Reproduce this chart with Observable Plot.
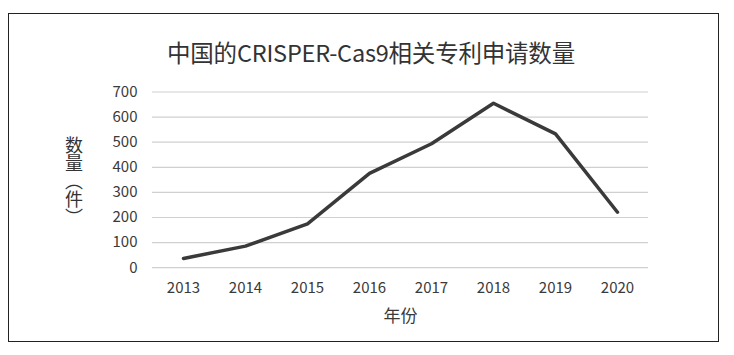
<!DOCTYPE html>
<html>
<head>
<meta charset="utf-8">
<script src="https://cdn.jsdelivr.net/npm/d3@7"></script>
<script src="https://cdn.jsdelivr.net/npm/@observablehq/plot@0.6"></script>
<style>
  html, body { margin: 0; padding: 0; background: #fff; }
  #wrap { position: relative; width: 734px; height: 355px; font-family: "Noto Sans CJK SC", "Noto Sans", sans-serif; }
  #box { position: absolute; left: 8px; top: 13px; width: 711px; height: 329px; border: 1.5px solid #222; box-sizing: border-box; }
  #title { position: absolute; left: 0; width: 742px; top: 41px; text-align: center; font-size: 23.5px; color: #333; line-height: 1; letter-spacing: -0.2px; }
  #ylab { position: absolute; left: 65px; top: 136px; writing-mode: vertical-rl; font-size: 18px; color: #333; line-height: 1; }
  #chart { position: absolute; left: 0; top: 0; }
</style>
</head>
<body>
<div id="wrap">
  <div id="box"></div>
  <div id="chart"></div>
  <div id="title">中国的CRISPER-Cas9相关专利申请数量</div>
  <div id="ylab">数量（件）</div>
</div>
<script>
const years = ["2013","2014","2015","2016","2017","2018","2019","2020"];
const counts = [37, 86, 175, 376, 494, 655, 533, 221];
const yTicks = [0,100,200,300,400,500,600,700];

const data = years.map((y, i) => ({year: y, count: counts[i]}));

const chart = Plot.plot({
  width: 734,
  height: 355,
  marginLeft: 152,
  marginRight: 86,
  marginTop: 91.5,
  marginBottom: 87.8,
  style: {fontFamily: '"Noto Sans CJK SC", "Noto Sans", sans-serif', fontSize: "15px", color: "#3a3a3a", background: "transparent", overflow: "visible"},
  x: {type: "point", domain: years, padding: 0.5},
  y: {domain: [0, 700]},
  marks: [
    Plot.gridY(yTicks, {stroke: "#d0d0d0", strokeOpacity: 1, strokeWidth: 1.2}),
    Plot.axisY(yTicks, {tickSize: 0, tickPadding: 15, label: null, fontSize: 15}),
    Plot.axisX({tickSize: 0, tickPadding: 15, fontSize: 15, label: null}),
    Plot.axisX({tickSize: 0, ticks: [], label: "年份", labelAnchor: "center", labelArrow: "none", labelOffset: 54, fontSize: 17})
  ].concat([
    Plot.line(data, {x: "year", y: "count", stroke: "#3a3a3a", strokeWidth: 3.5, strokeLinejoin: "round", strokeLinecap: "round"})
  ])
});
document.getElementById("chart").appendChild(chart);
</script>
</body>
</html>
